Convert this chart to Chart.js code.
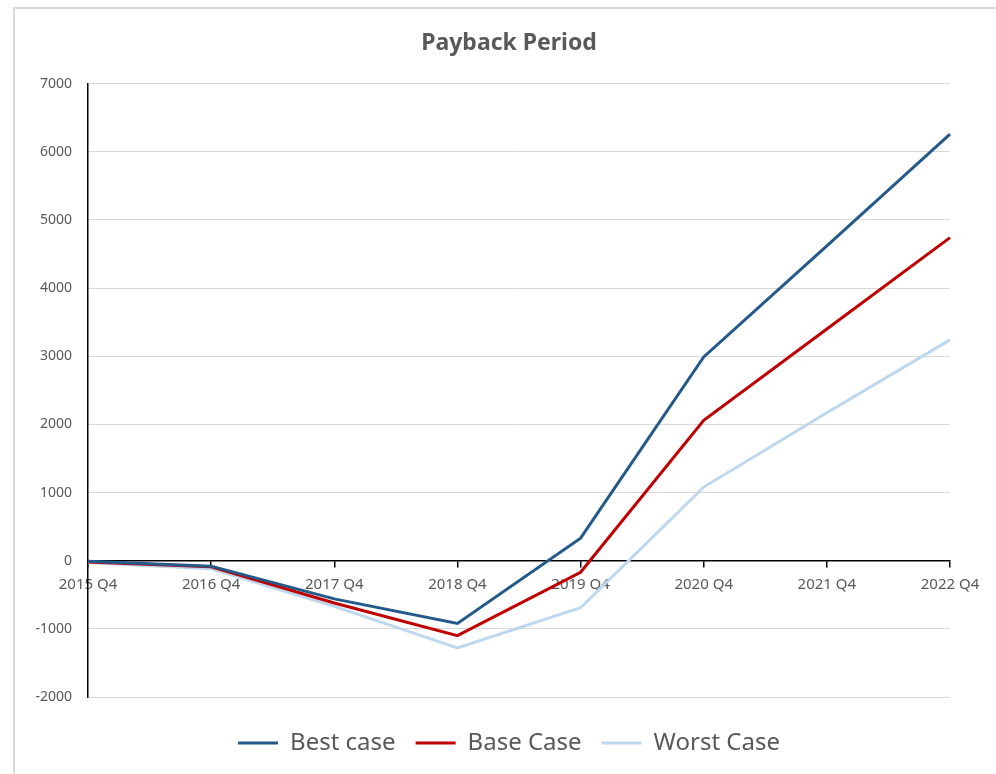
<!DOCTYPE html>
<html>
<head>
<meta charset="utf-8">
<script src="https://cdn.jsdelivr.net/npm/chart.js@4/dist/chart.umd.min.js"></script>
<style>
  html, body { margin: 0; padding: 0; background: #fff; }
  body { width: 996px; height: 774px; position: relative; overflow: hidden; }
  #frame { position: absolute; left: 13px; top: 7px; width: 1000px; height: 800px;
           border-left: 2px solid #d9d9d9; border-top: 2px solid #d9d9d9; }
  #wrap { position: absolute; left: 0; top: 0; width: 996px; height: 774px; }
</style>
</head>
<body>
<div id="frame"></div>
<div id="wrap"><canvas id="chart" width="996" height="774"></canvas></div>
<script>
// Cumulative cash position per scenario, year-end quarters
const quarters = ['2015 Q4', '2016 Q4', '2017 Q4', '2018 Q4', '2019 Q4', '2020 Q4', '2021 Q4', '2022 Q4'];
const bestCase  = [-10, -80, -560, -920,  330, 2990, 4620, 6260];
const baseCase  = [-20, -90, -620, -1100, -170, 2060, 3400, 4740];
const worstCase = [-30, -120, -670, -1280, -690, 1080, 2170, 3240];
const yTicks = [-2000, -1000, 0, 1000, 2000, 3000, 4000, 5000, 6000, 7000];

const grey = '#595959';
const font = 'Noto Sans';

new Chart(document.getElementById('chart'), {
  type: 'line',
  data: {
    labels: quarters,
    datasets: [
      { label: 'Best case',  data: bestCase,  borderColor: '#245a8a', backgroundColor: '#245a8a' },
      { label: 'Base Case',  data: baseCase,  borderColor: '#c00000', backgroundColor: '#c00000' },
      { label: 'Worst Case', data: worstCase, borderColor: '#bdd7ee', backgroundColor: '#bdd7ee' }
    ]
  },
  options: {
    responsive: false,
    animation: false,
    layout: { padding: { left: 22, right: 0, top: 0, bottom: 9 } },
    elements: {
      line: { borderWidth: 3, tension: 0, borderCapStyle: 'butt', borderJoinStyle: 'miter' },
      point: { radius: 0, hoverRadius: 0 }
    },
    scales: {
      x: {
        type: 'category',
        position: { y: 0 },
        offset: false,
        grid: { drawOnChartArea: false, drawTicks: true, tickLength: 6, color: '#000', lineWidth: 1.5 },
        border: { display: true, color: '#000', width: 1.5 },
        ticks: { color: grey, font: { family: font, size: 15 }, padding: 9, maxRotation: 0, autoSkip: false }
      },
      y: {
        min: yTicks[0],
        max: yTicks[yTicks.length - 1],
        afterBuildTicks: (scale) => { scale.ticks = yTicks.map(v => ({ value: v })); },
        afterFit: (scale) => { scale.width = 66; },
        grid: { color: '#d9d9d9', lineWidth: 1, drawTicks: false },
        border: { display: true, color: '#000', width: 1.5 },
        ticks: { color: grey, font: { family: font, size: 14 }, padding: 16, callback: (v) => String(v) }
      },
      // empty right-hand gutter so the last quarter label has room
      gutter: {
        type: 'linear',
        position: 'right',
        afterFit: (scale) => { scale.width = 46; },
        grid: { display: false },
        border: { display: false },
        ticks: { display: false }
      }
    },
    plugins: {
      title: {
        display: true,
        text: 'Payback Period',
        color: grey,
        font: { family: font, size: 23, weight: 'bold' },
        padding: { top: 30, bottom: 26 }
      },
      legend: {
        position: 'bottom',
        title: { display: true, text: '', font: { size: 10, lineHeight: 1 }, padding: 2 },
        labels: {
          color: grey,
          font: { family: font, size: 24 },
          boxWidth: 40,
          boxHeight: 3,
          padding: 20,
          generateLabels: (chart) =>
            Chart.defaults.plugins.legend.labels.generateLabels(chart).map(item => ({ ...item, lineWidth: 0 }))
        }
      },
      tooltip: { enabled: false }
    }
  }
});
</script>
</body>
</html>
